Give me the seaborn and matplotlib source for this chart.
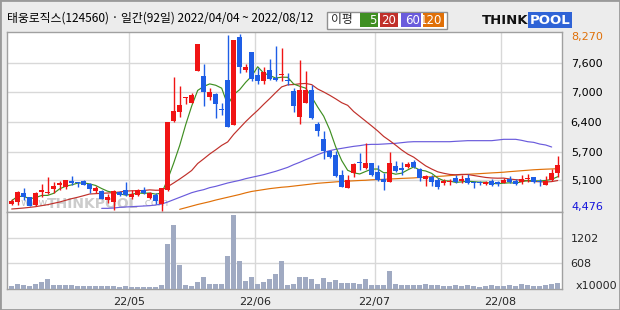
import numpy as np
import pandas as pd
import matplotlib
matplotlib.use("Agg")
import matplotlib.pyplot as plt
import seaborn as sns
from matplotlib.patches import Rectangle

# ---------------- data ----------------
title = "태웅로직스(124560) · 일간(92일) 2022/04/04 ~ 2022/08/12"
holidays = ["2022-05-05", "2022-06-01", "2022-06-06"]
dates = [d for d in pd.bdate_range("2022-04-04", "2022-08-12") if d.strftime("%Y-%m-%d") not in holidays]

opens = [4625, 4670, 4855, 4765, 4590, 4880, 4865, 4950, 5020, 4980,
         5115, 5090, 5115, 5050, 4905, 4900, 4705, 4670, 4885, 4920,
         4770, 4805, 4920, 4740, 4820, 4615, 4915, 6410, 6590, 6895,
         6795, 7475, 7370, 6925, 6990, 6650, 7285, 6325, 8205, 7490,
         7885, 7390, 7270, 7490, 7325, 7400, 7265, 7055, 6495, 6795,
         7070, 6345, 6015, 5760, 5670, 5245, 4970, 5295, 5530, 5385,
         5500, 5315, 5155, 5100, 5435, 5395, 5420, 5515, 5365, 5165,
         5195, 5135, 5065, 5090, 5170, 5115, 5170, 5085, 5080, 5055,
         5115, 5090, 5070, 5155, 5120, 5085, 5150, 5195, 5120, 5035,
         5130, 5295]
highs = [4720, 4890, 4955, 4770, 4870, 5050, 5200, 5100, 5105, 5140,
         5220, 5095, 5135, 5065, 5000, 4920, 4830, 4915, 4905, 5090,
         4915, 4940, 4980, 4880, 4850, 4970, 6380, 7350, 7150, 6920,
         7000, 8065, 7625, 7110, 7000, 6780, 8255, 8140, 8270, 7635,
         7885, 7535, 7570, 7735, 8020, 7960, 7435, 7110, 7705, 7485,
         7170, 6375, 6195, 5760, 5760, 5355, 5235, 5495, 5710, 5920,
         5500, 5465, 5295, 5735, 5545, 5515, 5520, 5565, 5395, 5250,
         5250, 5180, 5165, 5165, 5235, 5235, 5255, 5120, 5115, 5120,
         5165, 5120, 5170, 5220, 5165, 5235, 5265, 5200, 5150, 5215,
         5365, 5650]
lows = [4605, 4605, 4715, 4575, 4585, 4765, 4835, 4865, 4930, 4935,
        5035, 4980, 5020, 4850, 4865, 4725, 4650, 4500, 4785, 4800,
        4720, 4785, 4840, 4725, 4625, 4476, 4890, 6380, 6480, 6760,
        6795, 7470, 6730, 6860, 6475, 6540, 6265, 6325, 7425, 7455,
        7255, 7195, 7205, 7290, 7255, 7270, 7175, 6605, 6345, 6780,
        6450, 6075, 5580, 5610, 5200, 4985, 4970, 5205, 5355, 5380,
        5215, 5105, 4930, 5100, 5305, 5250, 5395, 5395, 5120, 5015,
        5005, 4940, 5035, 5020, 5070, 5070, 5050, 4970, 5030, 5020,
        5015, 5005, 5065, 5070, 5020, 5040, 5100, 5065, 5015, 5020,
        5115, 5205]
closes = [4690, 4880, 4780, 4585, 4855, 4920, 4885, 5005, 5065, 5135,
          5065, 5070, 5035, 4950, 4970, 4735, 4780, 4900, 4815, 4820,
          4830, 4915, 4865, 4855, 4690, 4955, 6380, 6610, 6745, 6920,
          6960, 8060, 7030, 7025, 6775, 6645, 6265, 8140, 7555, 7560,
          7310, 7270, 7455, 7310, 7275, 7405, 7260, 6730, 7070, 7070,
          6460, 6180, 5750, 5620, 5230, 4990, 5130, 5480, 5495, 5500,
          5245, 5135, 5085, 5500, 5335, 5355, 5485, 5405, 5170, 5230,
          5100, 4990, 5120, 5120, 5090, 5155, 5065, 5070, 5065, 5085,
          5020, 5040, 5130, 5100, 5055, 5165, 5170, 5100, 5090, 5105,
          5280, 5455]
volume = [64, 112, 88, 64, 112, 153, 233, 88, 88, 88,
          88, 64, 64, 64, 64, 64, 64, 64, 40, 64,
          32, 32, 32, 32, 32, 88, 1076, 1526, 570, 88,
          64, 161, 273, 112, 112, 112, 787, 1767, 658, 177,
          273, 112, 161, 225, 353, 658, 88, 112, 273, 273,
          225, 112, 249, 161, 201, 137, 137, 137, 112, 225,
          88, 88, 88, 418, 112, 88, 88, 88, 88, 112,
          88, 88, 64, 64, 88, 64, 88, 64, 40, 64,
          88, 64, 64, 88, 64, 112, 88, 64, 64, 88,
          112, 128]  # x10000 shares

# 20-day average before enough in-window data exists
ma20_head = [4513, 4523, 4534, 4548, 4563, 4585, 4606, 4635, 4663, 4700,
             4735, 4765, 4799, 4835, 4842, 4850, 4856, 4865, 4878]
# 60-day average, drawn from day 15 on
ma60_vals = [4527, 4527, 4534, 4549, 4556, 4563, 4570, 4577, 4584, 4599,
             4620, 4663, 4713, 4763, 4813, 4863, 4899, 4928, 4971, 4999,
             5035, 5071, 5100, 5128, 5164, 5193, 5221, 5250, 5286, 5322,
             5364, 5407, 5465, 5515, 5572, 5622, 5679, 5729, 5765, 5794,
             5815, 5837, 5858, 5873, 5894, 5901, 5901, 5908, 5916, 5923,
             5937, 5951, 5958, 5958, 5958, 5958, 5958, 5958, 5958, 5966,
             5973, 5980, 5980, 5980, 5980, 5980, 5994, 6009, 6009, 6009,
             5987, 5958, 5944, 5908, 5887, 5844]
ma60_start = 16
# 120-day average, drawn from day 28 on
ma120_vals = [4506, 4540, 4575, 4610, 4640, 4670, 4705, 4735, 4765, 4795,
              4825, 4860, 4890, 4910, 4930, 4950, 4965, 4980, 4990, 5005,
              5020, 5035, 5050, 5065, 5075, 5085, 5095, 5105, 5112, 5118,
              5125, 5130, 5140, 5145, 5150, 5157, 5163, 5170, 5175, 5180,
              5190, 5198, 5205, 5213, 5220, 5230, 5240, 5250, 5258, 5265,
              5272, 5280, 5288, 5295, 5303, 5315, 5325, 5335, 5345, 5355,
              5362, 5368, 5373, 5378]
ma120_start = 28

price_ticks = [7643, 7020, 6391, 5747, 5129]
price_tick_labels = ["7,600", "7,000", "6,400", "5,700", "5,100"]
vol_ticks = [608, 1202]
vol_tick_labels = ["608", "1202"]
legend_labels = ["5", "20", "60", "120"]

# ---------------- style ----------------
sns.set_style("white")
plt.rcParams["font.family"] = ["Noto Sans CJK KR", "DejaVu Sans"]

UP = "#f01414"
DOWN = "#1e5ee6"
C5, C20, C60, C120 = "#3f8f22", "#c0302a", "#6a5bdc", "#e07008"
VOLC = "#a0aac2"
GRID = "#d8d8d8"
FRAME = "#a0a0a0"

W, H = 620, 310
fig = plt.figure(figsize=(W / 100, H / 100), dpi=100, facecolor="#ececec")
fx = lambda x: x / W
fy = lambda y: 1 - y / H
L, R, T, M, B = 7.3, 561.7, 31.5, 212.3, 288.5
ax = fig.add_axes([fx(L), fy(M), fx(R) - fx(L), fy(T) - fy(M)])
axv = fig.add_axes([fx(L), fy(B), fx(R) - fx(L), fy(M) - fy(B)])

n = len(closes)
idx = np.arange(n)
df = pd.DataFrame({"i": idx, "open": opens, "high": highs, "low": lows,
                   "close": closes, "volume": volume})
ma5 = df["close"].rolling(5, min_periods=1).mean()
ma20 = df["close"].rolling(20).mean()
ma20.iloc[:len(ma20_head)] = ma20_head
df["ma5"] = ma5
df["ma20"] = ma20
df["ma60"] = np.nan
df.loc[ma60_start - 1:ma60_start - 2 + len(ma60_vals), "ma60"] = ma60_vals
df["ma120"] = np.nan
df.loc[ma120_start:ma120_start - 1 + len(ma120_vals), "ma120"] = ma120_vals

# month boundaries
months = pd.Series([d.month for d in dates])
mstarts = [i for i in range(1, n) if months[i] != months[i - 1]]
mlabels = [dates[i].strftime("%y/%m") for i in mstarts]

# ---------------- price panel ----------------
ax.set_facecolor("white")
for c, col in [("ma120", C120), ("ma60", C60), ("ma20", C20), ("ma5", C5)]:
    sub = df.dropna(subset=[c])
    sns.lineplot(data=sub, x="i", y=c, ax=ax, color=col, linewidth=0.85,
                 legend=False, zorder=2)

up = df["close"] >= df["open"]
colors = np.where(up, UP, DOWN)
body_lo = np.minimum(df["open"], df["close"])
body_h = np.maximum(np.abs(df["close"] - df["open"]), 18)
ax.vlines(idx, df["low"], df["high"], colors=colors, linewidth=1.0, zorder=3)
ax.bar(idx, body_h, bottom=body_lo, width=0.8, color=colors, linewidth=0, zorder=4)

# watermark
ax.text(0.023, 0.035, "www.", transform=ax.transAxes, fontsize=8, color="#c4c4c4",
        family="DejaVu Sans", zorder=1)
ax.text(0.072, 0.025, "THINKPOOL", transform=ax.transAxes, fontsize=10,
        fontweight="bold", color="#cccccc", family="DejaVu Sans", zorder=1)
ax.text(0.242, 0.035, ".com", transform=ax.transAxes, fontsize=8, color="#c4c4c4",
        family="DejaVu Sans", zorder=1)

ax.set_xlim(-0.73, 91.67)
ax.set_ylim(4442, 8324)
ax.set_xticks([m - 0.5 for m in mstarts])
ax.set_xticklabels([])
ax.set_yticks(price_ticks)
ax.set_yticklabels(price_tick_labels)
ax.yaxis.tick_right()
ax.tick_params(axis="y", length=0, pad=6.5, labelsize=8, labelcolor="black")
ax.tick_params(axis="x", length=0)
for lab in ax.get_yticklabels():
    lab.set_family("DejaVu Sans")
ax.grid(True, color=GRID, linewidth=1.0, zorder=0)
ax.set_axisbelow(True)
ax.set_xlabel("")
ax.set_ylabel("")
for s in ax.spines.values():
    s.set_color(FRAME)
    s.set_linewidth(1.0)

hi_max = max(highs)
lo_min = min(lows)
fig.text(fx(571), fy(37), f"{hi_max:,}", color="#e07008", fontsize=8,
         va="center", ha="left", family="DejaVu Sans")
fig.text(fx(571), fy(207), f"{lo_min:,}", color="#1414dc", fontsize=8,
         va="center", ha="left", family="DejaVu Sans")

# ---------------- volume panel ----------------
axv.set_facecolor("white")
sns.barplot(data=df, x="i", y="volume", ax=axv, color=VOLC, saturation=1,
            width=0.83, linewidth=0, zorder=3)
axv.set_xlim(-0.73, 91.67)
axv.set_ylim(0, 1830)
axv.set_xticks([m - 0.5 for m in mstarts])
axv.set_xticklabels(mlabels)
axv.set_yticks(vol_ticks)
axv.set_yticklabels(vol_tick_labels)
axv.yaxis.tick_right()
axv.tick_params(axis="y", length=0, pad=6.5, labelsize=8)
axv.tick_params(axis="x", length=0, pad=6, labelsize=8)
for lab in axv.get_yticklabels() + axv.get_xticklabels():
    lab.set_family("DejaVu Sans")
axv.grid(True, color=GRID, linewidth=1.0, zorder=0)
axv.set_axisbelow(True)
axv.set_xlabel("")
axv.set_ylabel("")
for s in axv.spines.values():
    s.set_color(FRAME)
    s.set_linewidth(1.0)
fig.text(fx(576), fy(286), "x10000", fontsize=8, va="center", ha="left",
         family="DejaVu Sans")

# ---------------- header ----------------
fig.text(fx(7), fy(18), title, fontsize=8.55, va="center", ha="left", color="black")

# legend boxes
fig.patches.append(Rectangle((fx(327), fy(28.5)), fx(120), 17.0 / H,
                             transform=fig.transFigure, facecolor="white",
                             edgecolor="#909090", linewidth=1))
fig.text(fx(342), fy(19.5), "이평", fontsize=8.5, ha="center", va="center")
boxes = [(360, 378), (380, 398), (401, 421), (423, 444)]
for (x0, x1), lab, col in zip(boxes, legend_labels, [C5, C20, C60, C120]):
    fig.patches.append(Rectangle((fx(x0), fy(27)), fx(x1 - x0), 14.0 / H,
                                 transform=fig.transFigure, facecolor=col,
                                 edgecolor="none"))
    fig.text(fx(x1 - 1.5), fy(20), lab, fontsize=8.5, ha="right", va="center",
             color="white", family="DejaVu Sans")

# logo
fig.text(fx(482), fy(20), "THINK", fontsize=9.5, fontweight="bold", ha="left",
         va="center", color="#111111", family="DejaVu Sans")
fig.text(fx(530), fy(20), "POOL", fontsize=9.5, fontweight="bold", ha="left",
         va="center", color="white", family="DejaVu Sans",
         bbox=dict(boxstyle="square,pad=0.12", facecolor="#2f63d6", edgecolor="none"))

# outer frame
fig.patches.append(Rectangle((0, 0), 1, 1, transform=fig.transFigure,
                             facecolor="none", edgecolor="#9a9a9a", linewidth=2))

fig.savefig("out.png", dpi=100, facecolor=fig.get_facecolor())
